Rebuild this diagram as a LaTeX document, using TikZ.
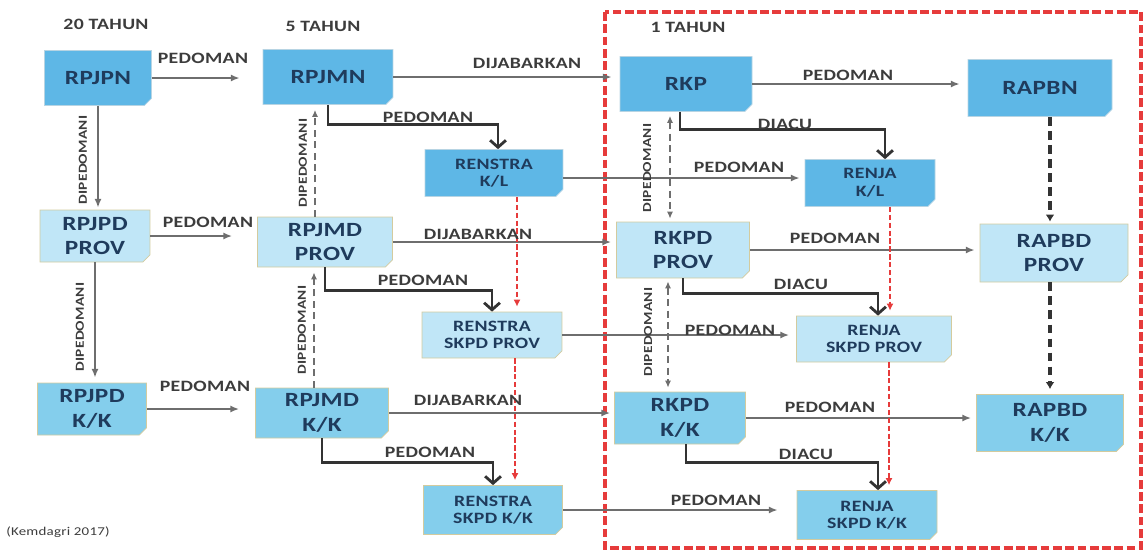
\documentclass[tikz,border=0pt]{standalone}
\usepackage{fontspec}
\usepackage{xcolor}
\usepackage{tikz}
\setmainfont{Carlito}[FakeStretch=1.25,LetterSpace=2]
\usetikzlibrary{arrows.meta}
\usetikzlibrary{shapes.misc, calc, positioning}

\definecolor{topblue}{HTML}{5EB7E6}
\definecolor{provblue}{HTML}{C0E6F7}
\definecolor{kkblue}{HTML}{84CEEC}
\definecolor{boxtext}{HTML}{1F3B5C}
\definecolor{labelgray}{HTML}{3C3C3C}
\definecolor{linegray}{HTML}{6E6E6E}
\definecolor{dashred}{HTML}{E63B3B}
\definecolor{edgetan}{HTML}{D3CB9E}

\begin{document}
\begin{tikzpicture}[x=0.02cm,y=-0.02cm,
    plan node/.style={chamfered rectangle,chamfered rectangle corners=south east,
                      chamfered rectangle xsep=2pt,chamfered rectangle ysep=2pt,inner sep=1pt,
                      draw=edgetan,line width=0.4pt,text=boxtext,align=center,
                      font=\bfseries\fontsize{11.5}{14}\selectfont},
    topbox/.style={plan node,fill=topblue,draw=topblue!80!black!40},
    provbox/.style={plan node,fill=provblue},
    kkbox/.style={plan node,fill=kkblue},
    small text/.style={font=\bfseries\fontsize{9}{10}\selectfont},
    lbl/.style={text=labelgray,inner sep=0pt,font=\bfseries\fontsize{9}{10}\selectfont},
    vlbl/.style={lbl,rotate=90,font=\bfseries\fontsize{7}{8}\selectfont},
    ped/.style={draw=linegray,line width=1pt,-{Latex[length=5pt,width=4pt]}},
    heavy/.style={draw=black!80,line width=1.6pt,-{Straight Barb[length=4pt,width=9pt]}},
    dip/.style={draw=linegray,line width=1.3pt,dash pattern=on 4pt off 2.5pt,-{Latex[length=4pt,width=3.5pt]}},
    redflow/.style={draw=dashred,line width=1.5pt,dash pattern=on 3pt off 1.5pt,-{Latex[length=4pt,width=4pt]}},
    budget/.style={draw=black!80,line width=2pt,dash pattern=on 5pt off 3pt,-{Latex[length=4pt,width=5pt]}}]

\useasboundingbox (0,0) rectangle (1148,556);

% the one year frame
\draw[dashred,line width=2.2pt,dash pattern=on 5pt off 2pt] (605,12) rectangle (1141,548);

\node[lbl] (TitleTwenty) at (106,24) {20 TAHUN};
\node[lbl] (TitleFive) at (323,26) {5 TAHUN};
\node[lbl] (TitleOne) at (688,27) {1 TAHUN};

% boxes
\node [topbox,minimum width=2.14cm,minimum height=1.1cm] (RPJPN) at (98,78) {RPJPN};
\node [topbox,minimum width=2.6cm,minimum height=1.1cm] (RPJMN) at (328,77) {RPJMN};
\node [topbox,minimum width=2.64cm,minimum height=1.1cm] (RKP) at (686,84) {RKP};
\node [topbox,minimum width=2.88cm,minimum height=1.14cm] (RAPBN) at (1040,88) {RAPBN};
\node [topbox,small text,minimum width=2.76cm,minimum height=0.94cm] (RenstraKL) at (494,173) {RENSTRA\\K/L};
\node [topbox,small text,minimum width=2.6cm,minimum height=0.94cm] (RenjaKL) at (870,183) {RENJA\\K/L};

\node [provbox,minimum width=2.2cm,minimum height=1.04cm] (RPJPDProv) at (95,236) {RPJPD\\PROV};
\node [provbox,minimum width=2.7cm,minimum height=1cm] (RPJMDProv) at (325,242) {RPJMD\\PROV};
\node [provbox,minimum width=2.66cm,minimum height=1.12cm] (RKPDProv) at (683,250) {RKPD\\PROV};
\node [provbox,minimum width=2.96cm,minimum height=1.16cm] (RAPBDProv) at (1054,253) {RAPBD\\PROV};
\node [provbox,small text,minimum width=2.8cm,minimum height=0.92cm] (RenstraSP) at (492,335) {RENSTRA\\SKPD PROV};
\node [provbox,small text,minimum width=3.1cm,minimum height=0.92cm] (RenjaSP) at (874,339) {RENJA\\SKPD PROV};

\node [kkbox,minimum width=2.18cm,minimum height=1.04cm] (RPJPDKK) at (92,409) {RPJPD\\K/K};
\node [kkbox,minimum width=2.66cm,minimum height=1cm] (RPJMDKK) at (322,413) {RPJMD\\K/K};
\node [kkbox,minimum width=2.62cm,minimum height=1.04cm] (RKPDKK) at (680,418) {RKPD\\K/K};
\node [kkbox,minimum width=2.94cm,minimum height=1.14cm] (RAPBDKK) at (1050,423) {RAPBD\\K/K};
\node [kkbox,small text,minimum width=2.78cm,minimum height=0.98cm] (RenstraSK) at (493,510) {RENSTRA\\SKPD K/K};
\node [kkbox,small text,minimum width=2.8cm,minimum height=0.98cm] (RenjaSK) at (867,515) {RENJA\\SKPD K/K};

% thin arrows
\draw[ped,shorten >=0.46cm] (RPJPN.east) -- (RPJPN.east -| RPJMN.west);
\draw[ped,shorten >=0.16cm] (RPJMN.east) -- (RPJMN.east -| RKP.west);
\draw[ped,shorten >=0.16cm] (RKP.east) -- (RKP.east -| RAPBN.west);
\draw[ped,shorten >=0.04cm] (RPJPN.south) -- (RPJPN.south |- RPJPDProv.north);
\draw[ped,shorten >=0.1cm] (RPJPDProv.south) -- (RPJPDProv.south |- RPJPDKK.north);
\draw[ped,shorten >=0.5cm] (RPJPDProv.east) -- (RPJPDProv.east -| RPJMDProv.west);
\draw[ped,shorten >=0.32cm] (RPJPDKK.east) -- (RPJPDKK.east -| RPJMDKK.west);
\draw[ped,shorten >=0.1cm] (RPJMDProv.east) -- (RPJMDProv.east -| RKPDProv.west);
\draw[ped,shorten >=0.08cm] (RPJMDKK.east) -- (RPJMDKK.east -| RKPDKK.west);
\draw[ped,shorten >=0.1cm] (RKPDProv.east) -- (RKPDProv.east -| RAPBDProv.west);
\draw[ped,shorten >=0.1cm] (RKPDKK.east) -- (RKPDKK.east -| RAPBDKK.west);
\draw[ped,shorten >=0.1cm] ([yshift=-0.1cm]RenstraKL.east) -- ([yshift=-0.1cm]RenstraKL.east -| RenjaKL.west);
\draw[ped,shorten >=0.14cm] (RenstraSP.east) -- (RenstraSP.east -| RenjaSP.west);
\draw[ped,shorten >=0.38cm] (RenstraSK.east) -- (RenstraSK.east -| RenjaSK.west);

% heavy elbows
\draw[heavy] (RPJMN.south) -- ++(0,20) -| ([xshift=0.08cm]RenstraKL.north);
\draw[heavy] (RPJMDProv.south) -- ++(0,23) -| (RenstraSP.north);
\draw[heavy] (RPJMDKK.south) -- ++(0,24) -| (RenstraSK.north);
\draw[heavy] ([xshift=-0.12cm]RKP.south) -- ++(0,18) -| ([xshift=0.3cm]RenjaKL.north);
\draw[heavy] (RKPDProv.south) -- ++(0,15) -| ([xshift=0.08cm]RenjaSP.north);
\draw[heavy] ([xshift=0.12cm]RKPDKK.south) -- ++(0,18) -| ([xshift=0.22cm]RenjaSK.north);

% dipedomani
\coordinate (DipA) at ([xshift=-0.2cm]RPJMDProv.north);
\coordinate (DipB) at ([xshift=-0.16cm]RPJMDKK.north);
\coordinate (DipC) at ([xshift=-0.32cm]RKP.south);
\coordinate (DipD) at ([xshift=-0.3cm]RKPDProv.south);
\draw[dip,shorten >=0.1cm] (DipA) -- (DipA |- RPJMN.south);
\draw[dip,shorten >=0.1cm] (DipB) -- (DipB |- RPJMDProv.south);
\draw[dip,{Latex[length=4pt,width=3.5pt]}-{Latex[length=4pt,width=3.5pt]},shorten <=0.08cm,shorten >=0.06cm] (DipC) -- (DipC |- RKPDProv.north);
\draw[dip,{Latex[length=4pt,width=3.5pt]}-{Latex[length=4pt,width=3.5pt]},shorten <=0.06cm,shorten >=0.08cm] (DipD) -- (DipD |- RKPDKK.north);

% red flow
\coordinate (RedA) at ([xshift=0.46cm]RenstraKL.south);
\coordinate (RedB) at ([xshift=0.46cm]RenstraSP.south);
\coordinate (RedC) at ([xshift=0.4cm]RenjaKL.south);
\coordinate (RedD) at ([xshift=0.3cm]RenjaSP.south);
\draw[redflow,shorten >=0.1cm] (RedA) -- (RedA |- RenstraSP.north);
\draw[redflow,shorten >=0.1cm] (RedB) -- (RedB |- RenstraSK.north);
\draw[redflow,shorten >=0.1cm] (RedC) -- (RedC |- RenjaSP.north);
\draw[redflow,shorten >=0.1cm] (RedD) -- (RedD |- RenjaSK.north);

% budget
\coordinate (BudA) at ([xshift=0.2cm]RAPBN.south);
\coordinate (BudB) at ([xshift=-0.08cm]RAPBDProv.south);
\draw[budget,shorten >=0.04cm] (BudA) -- (BudA |- RAPBDProv.north);
\draw[budget,shorten >=0.1cm] (BudB) -- (BudB |- RAPBDKK.north);

% labels
\node[lbl] (PedA) at (203,58) {PEDOMAN};
\node[lbl] (PedB) at (208,222) {PEDOMAN};
\node[lbl] (PedC) at (205,386) {PEDOMAN};
\node[lbl] (PedD) at (428,117) {PEDOMAN};
\node[lbl] (PedE) at (423,280) {PEDOMAN};
\node[lbl] (PedF) at (430,452) {PEDOMAN};
\node[lbl] (PedG) at (739,167) {PEDOMAN};
\node[lbl] (PedH) at (730,330) {PEDOMAN};
\node[lbl] (PedI) at (716,500) {PEDOMAN};
\node[lbl] (PedJ) at (848,75) {PEDOMAN};
\node[lbl] (PedK) at (835,238) {PEDOMAN};
\node[lbl] (PedL) at (830,407) {PEDOMAN};
\node[lbl] (JabA) at (527,63) {DIJABARKAN};
\node[lbl] (JabB) at (478,234) {DIJABARKAN};
\node[lbl] (JabC) at (468,400) {DIJABARKAN};
\node[lbl] (AcuA) at (785,124) {DIACU};
\node[lbl] (AcuB) at (801,284) {DIACU};
\node[lbl] (AcuC) at (806,454) {DIACU};
\node[vlbl] (DipLabelA) at (83,160) {DIPEDOMANI};
\node[vlbl] (DipLabelB) at (80,327) {DIPEDOMANI};
\node[vlbl] (DipLabelC) at (303,163) {DIPEDOMANI};
\node[vlbl] (DipLabelD) at (302,330) {DIPEDOMANI};
\node[vlbl] (DipLabelE) at (647,168) {DIPEDOMANI};
\node[vlbl] (DipLabelF) at (648,332) {DIPEDOMANI};

\node[text=labelgray,inner sep=0pt,font=\fontsize{6.8}{8}\selectfont] (Source) at (58,532) {(Kemdagri 2017)};

\end{tikzpicture}
\end{document}
